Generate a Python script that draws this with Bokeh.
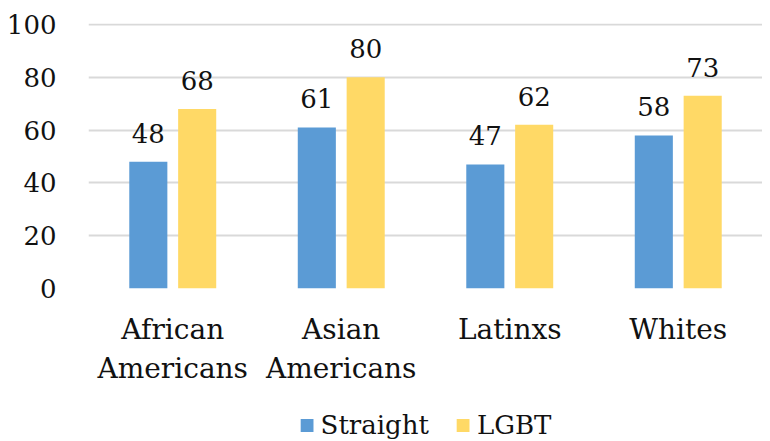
from bokeh.plotting import figure
from bokeh.layouts import column
from bokeh.models import ColumnDataSource, FactorRange, Legend, LegendItem, FixedTicker, Range1d
from bokeh.transform import dodge
from bokeh.core.properties import value
from bokeh.embed import file_html
from bokeh.resources import INLINE

categories = ["African\nAmericans", "Asian\nAmericans", "Latinxs", "Whites"]
straight = [48, 61, 47, 58]
lgbt = [68, 80, 62, 73]
series_names = ["Straight", "LGBT"]
y_ticks = [0, 20, 40, 60, 80, 100]

FONT = "DejaVu Serif"
BLUE = "#5B9BD5"
YELLOW = "#FFD966"
GRID = "#D9D9D9"
TXT = "#111111"

src = ColumnDataSource(dict(
    cat=categories,
    straight=straight,
    lgbt=lgbt,
    straight_lbl=[str(v) for v in straight],
    lgbt_lbl=[str(v) for v in lgbt],
))

p = figure(x_range=FactorRange(*categories), y_range=Range1d(0, 100.4),
           width=762, height=410, output_backend="svg", toolbar_location=None,
           min_border_left=88, min_border_right=0, min_border_top=23, min_border_bottom=122)
p.outline_line_color = None

off = 0.145
bw = 0.226
p.vbar(x=dodge("cat", -off, range=p.x_range), top="straight", width=bw, source=src,
       fill_color=BLUE, line_color=None)
p.vbar(x=dodge("cat", off, range=p.x_range), top="lgbt", width=bw, source=src,
       fill_color=YELLOW, line_color=None)

for col, o in (("straight", -off), ("lgbt", off)):
    p.text(x=dodge("cat", o, range=p.x_range), y=col, text=col + "_lbl", source=src,
           text_font=value(FONT), text_font_size="26px", text_color=TXT,
           text_align="center", text_baseline="bottom", y_offset=-19)

p.xgrid.grid_line_color = None
p.ygrid.grid_line_color = GRID
p.ygrid.grid_line_width = 2
p.yaxis.ticker = FixedTicker(ticks=y_ticks)
p.yaxis.axis_line_color = None
p.yaxis.major_tick_line_color = None
p.yaxis.minor_tick_line_color = None
p.yaxis.major_label_standoff = 26
p.xaxis.axis_line_color = None
p.xaxis.major_tick_line_color = None
p.xaxis.major_label_standoff = 18
p.yaxis.major_label_text_font = FONT
p.yaxis.major_label_text_font_size = "26px"
p.yaxis.major_label_text_color = TXT
p.xaxis.major_label_text_font = FONT
p.xaxis.major_label_text_font_size = "28px"
p.xaxis.major_label_text_color = TXT

# legend strip below the chart
lg = figure(width=762, height=29, output_backend="svg", toolbar_location=None,
            min_border=0, x_range=Range1d(0, 1), y_range=Range1d(0, 1))
lg.outline_line_color = None
lg.axis.visible = False
lg.grid.visible = False
e = ColumnDataSource(dict(x=[5], top=[1]))
l1 = lg.vbar(x="x", top="top", width=0.1, source=e, fill_color=BLUE, line_color=None)
l2 = lg.vbar(x="x", top="top", width=0.1, source=e, fill_color=YELLOW, line_color=None)
legend = Legend(items=[LegendItem(label=series_names[0], renderers=[l1]),
                       LegendItem(label=series_names[1], renderers=[l2])],
                orientation="horizontal", location="center",
                label_text_font=FONT, label_text_font_size="26px", label_text_color=TXT,
                glyph_width=16, glyph_height=16, spacing=26, label_standoff=6,
                border_line_color=None, background_fill_alpha=0, padding=0, margin=0)
lg.add_layout(legend, "center")

layout = column(p, lg, spacing=0)
open("out.html", "w").write(file_html(layout, INLINE))
